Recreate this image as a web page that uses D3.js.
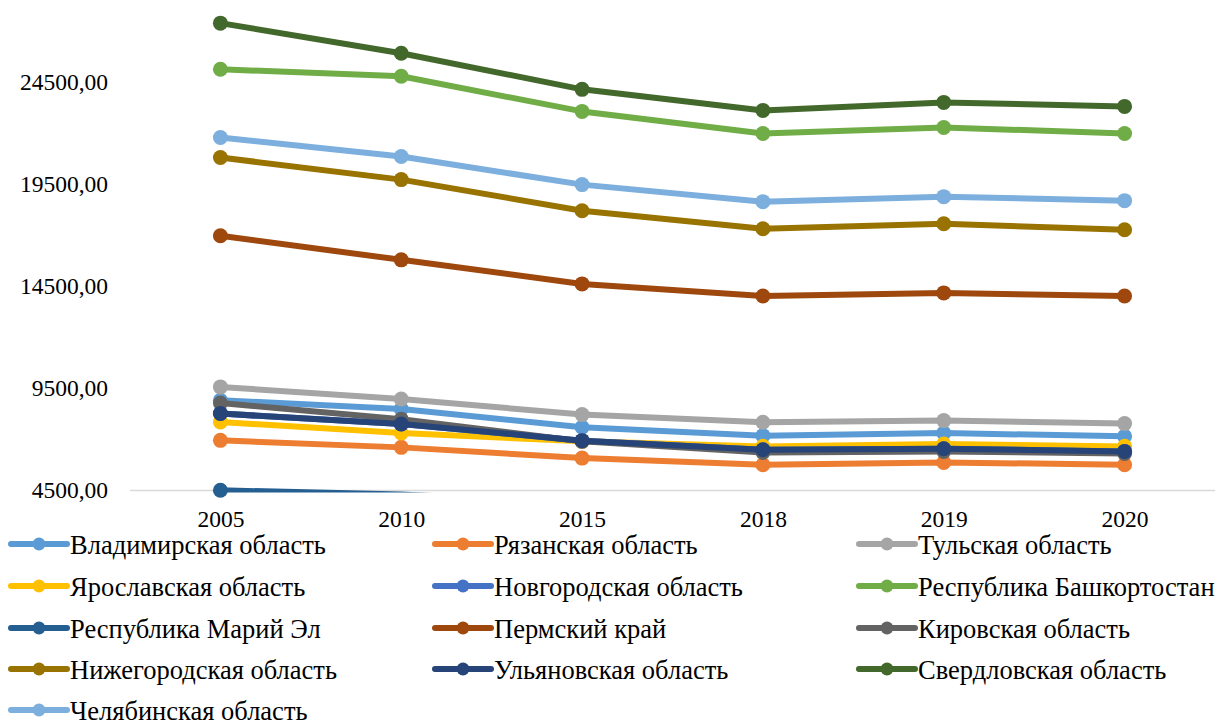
<!DOCTYPE html>
<html><head><meta charset="utf-8">
<script src="https://cdn.jsdelivr.net/npm/d3@7"></script>
<style>body{margin:0;background:#fff}svg{display:block}text{font-family:"Liberation Serif","Times New Roman",serif;fill:#000}</style>
</head><body><svg id="c" width="1223" height="720"></svg>
<script>
const years = ["2005","2010","2015","2018","2019","2020"];
const yTicks = [4500, 9500, 14500, 19500, 24500];
const seriesNames = ["Владимирская область","Рязанская область","Тульская область","Ярославская область","Новгородская область","Республика Башкортостан","Республика Марий Эл","Пермский край","Кировская область","Нижегородская область","Ульяновская область","Свердловская область","Челябинская область"];
const seriesColors = ["#5B9BD5","#ED7D31","#A5A5A5","#FFC000","#4472C4","#70AD47","#255E91","#9E480E","#636363","#997300","#264478","#43682B","#7CAFDD"];
const vladimir = [8924, 8497, 7597, 7189, 7317, 7155];
const ryazan = [6958, 6614, 6088, 5763, 5876, 5763];
const tula = [9578, 8988, 8221, 7843, 7926, 7779];
const yaroslavl = [7858, 7317, 6909, 6663, 6776, 6663];
const novgorod = [8271, 7759, 6943, 6501, 6550, 6417];
const bashkortostan = [25147, 24803, 23082, 22001, 22296, 22001];
const mariEl = [4510, 4300, 3900, 3700, 3750, 3700];
const perm = [16987, 15807, 14627, 14037, 14185, 14037];
const kirov = [8792, 7990, 6909, 6368, 6417, 6319];
const nizhny = [20821, 19740, 18216, 17331, 17577, 17282];
const ulyanovsk = [8271, 7759, 6943, 6501, 6550, 6417];
const sverdlovsk = [27409, 25934, 24164, 23132, 23525, 23328];
const chelyabinsk = [21804, 20870, 19494, 18658, 18904, 18707];
const seriesValues = [vladimir, ryazan, tula, yaroslavl, novgorod, bashkortostan, mariEl, perm, kirov, nizhny, ulyanovsk, sverdlovsk, chelyabinsk];

const svg = d3.select("#c");
const plotL = 130, plotR = 1215, yBottom = 490.5, yTop = 82.5;
const yMin = 4500;
const x = d3.scalePoint().domain(years).range([plotL, plotR]).padding(0.5);
const y = d3.scaleLinear().domain([4500, 24500]).range([yBottom, yTop]);

svg.append("defs").append("clipPath").attr("id","clip").append("rect")
  .attr("x", 0).attr("y", 0).attr("width", 1223).attr("height", yBottom + 2);

// axis line
const xAxis = d3.axisBottom(x).tickSize(0).tickPadding(0);
const gx = svg.append("g").attr("transform", `translate(0,${yBottom})`).call(xAxis);
gx.select(".domain").attr("stroke","#D9D9D9").attr("stroke-width",1.5).attr("d", `M${plotL},0H${plotR}`);
gx.selectAll("text").attr("font-size", 23.5).attr("y", 0).attr("dy", "1.55em").style("font-family",'"Liberation Serif",serif');

const yAxis = d3.axisLeft(y).tickValues(yTicks).tickSize(0).tickFormat(d => d3.format(".2f")(d).replace(".", ","));
const gy = svg.append("g").attr("transform", `translate(108,-1)`).call(yAxis);
gy.select(".domain").remove();
gy.selectAll("text").attr("font-size", 23.5).attr("x", 0).attr("dy","0.33em").style("font-family",'"Liberation Serif",serif');

const line = d3.line().x((d,i) => x(years[i])).y(d => y(d));
const plot = svg.append("g");
seriesValues.forEach((vals, k) => {
  const g = plot.append("g");
  g.append("path").attr("d", line(vals)).attr("fill","none").attr("stroke", seriesColors[k])
    .attr("clip-path","url(#clip)")
    .attr("stroke-width", 6).attr("stroke-linejoin","round").attr("stroke-linecap","round");
  g.selectAll("circle").data(vals.map((v,i)=>({v,i})).filter(d => d.v >= yMin)).enter().append("circle")
    .attr("cx", d => x(years[d.i])).attr("cy", d => y(d.v)).attr("r", 7.5).attr("fill", seriesColors[k]);
});

// legend
const colX = [11, 435, 859];
const rowY = [544, 586, 628, 669, 710];
seriesNames.forEach((name, k) => {
  const cx = colX[k % 3], cy = rowY[Math.floor(k / 3)];
  const g = svg.append("g").attr("transform", `translate(${cx},${cy})`);
  g.append("line").attr("x1", 0).attr("x2", 56).attr("stroke", seriesColors[k]).attr("stroke-width", 6).attr("stroke-linecap","round");
  g.append("circle").attr("cx", 28).attr("r", 6.5).attr("fill", seriesColors[k]);
  g.append("text").attr("x", 59).attr("dy", "0.36em").attr("font-size", 26.5).text(name);
});
</script></body></html>
